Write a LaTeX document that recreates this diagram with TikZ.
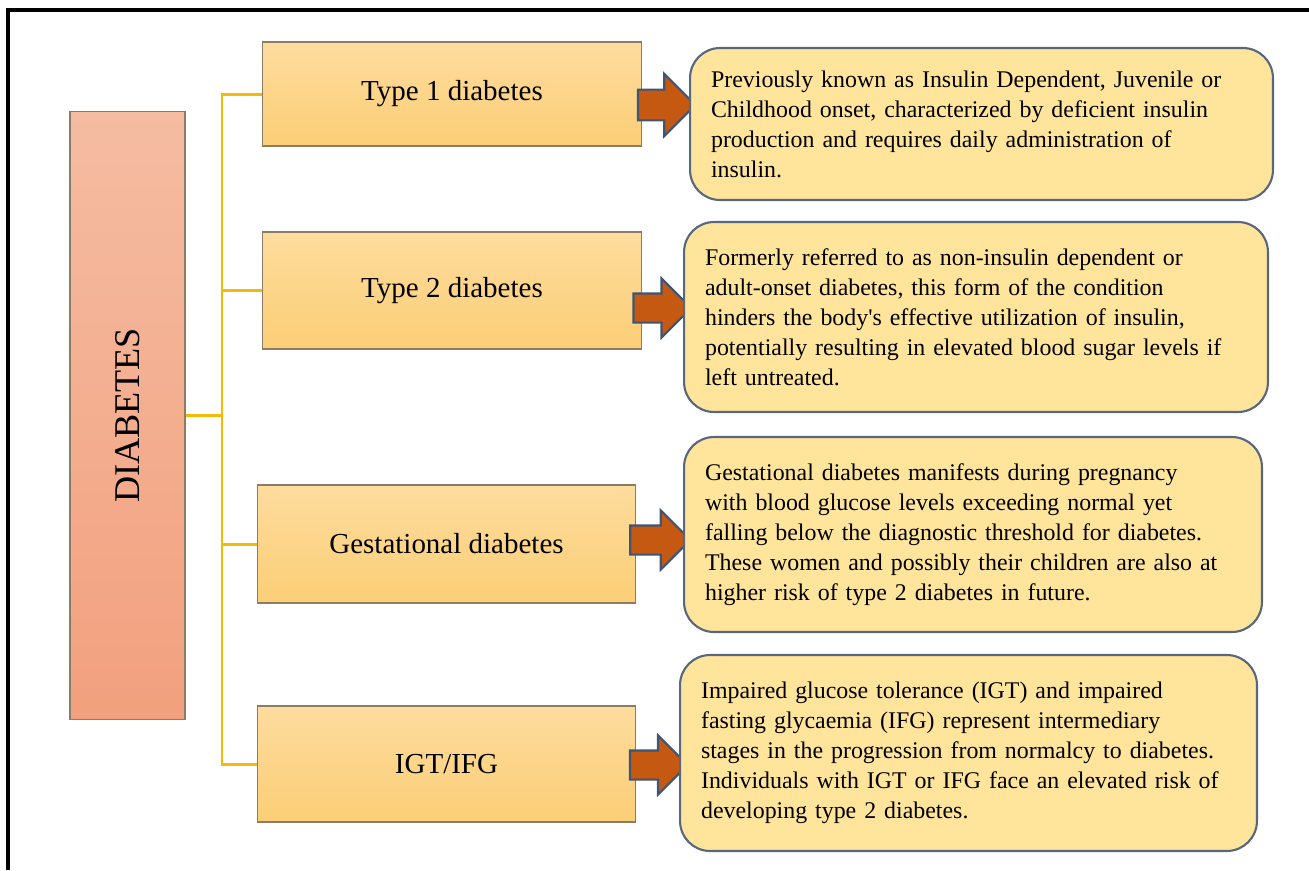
\documentclass[tikz,border=0pt]{standalone}
\usepackage{fontspec}
\setmainfont{Liberation Serif}
\usepackage{xcolor}
\usepackage{tikz}
\usetikzlibrary{shapes.arrows, positioning, calc}
\definecolor{diabtop}{RGB}{245,188,162}
\definecolor{diabbot}{RGB}{242,160,126}
\definecolor{typetop}{RGB}{253,220,158}
\definecolor{typebot}{RGB}{252,206,118}
\definecolor{boxedge}{RGB}{139,125,100}
\definecolor{branchgold}{RGB}{245,185,10}
\definecolor{arrowfill}{RGB}{197,89,17}
\definecolor{arrowedge}{RGB}{62,85,117}
\definecolor{descfill}{RGB}{255,228,156}
\definecolor{descedge}{RGB}{88,103,125}
\tikzset{
  diabbox/.style={rectangle, draw=boxedge, top color=diabtop, bottom color=diabbot,
    minimum width=2.3cm, minimum height=12.18cm, line width=0.6pt},
  typebox/.style={rectangle, draw=boxedge, top color=typetop, bottom color=typebot,
    minimum width=7.6cm, minimum height=2.2cm, line width=0.6pt,
    font=\fontsize{16.5}{19}\selectfont},
  descbox/.style={rectangle, rounded corners=0.6cm, draw=descedge, fill=descfill,
    line width=1.2pt, inner xsep=0.42cm, align=left,
    font=\fontsize{13.6}{17.1}\selectfont},
  blockarrow/.style={single arrow, draw=arrowedge, fill=arrowfill, line width=1.2pt,
    inner xsep=0pt, inner ysep=0.27cm, minimum height=1.15cm, minimum width=1.15cm,
    single arrow head extend=0.3cm},
  branch/.style={line width=1.7pt, color=branchgold},
  frameline/.style={line width=1.8pt, color=black}
}
\begin{document}
\begin{tikzpicture}[x=0.02cm, y=-0.02cm]
  \useasboundingbox (0,0) rectangle (1309,870);
  % page frame
  \draw[frameline] (8,870) -- (8,10) -- (1309,10);

  % main category
  \node[diabbox] (diab) at (127.5,415.5) {};
  \node[rotate=90, font=\fontsize{20.6}{24}\selectfont] (diablabel) at (diab.center) {DIABETES};

  % types
  \node[typebox, minimum height=2.08cm] (t1) at (452,94) {Type 1 diabetes};
  \node[typebox, minimum height=2.34cm] (t2) at (452,290.5) {Type 2 diabetes};
  \node[typebox, minimum width=7.58cm, minimum height=2.36cm] (t3) at (446.5,544) {Gestational diabetes};
  \node[typebox, minimum width=7.58cm, minimum height=2.32cm] (t4) at (446.5,764) {IGT/IFG};

  % tree connectors
  \coordinate (spine) at (222,415.5);
  \draw[branch] (diab.east) -- (spine);
  \foreach \t in {t1,t2,t3,t4}
    \draw[branch] (spine) |- (\t.west);

  % block arrows
  \node[blockarrow, minimum width=1.25cm] (a1) at (659,105) {};
  \node[blockarrow] (a2) at (655,308) {};
  \node[blockarrow, minimum height=1.2cm] (a3) at (653,540) {};
  \node[blockarrow] (a4) at (651.5,765) {};

  % descriptions
  \node[descbox, text width=10.82cm, minimum height=3.04cm] (d1) at (981.5,124)
    {Previously known as Insulin Dependent, Juvenile or\\
     Childhood onset, characterized by deficient insulin\\
     production and requires daily administration of\\
     insulin.};
  \node[descbox, text width=10.84cm, minimum height=3.8cm] (d2) at (976,317)
    {Formerly referred to as non-insulin dependent or\\
     adult-onset diabetes, this form of the condition\\
     hinders the body\textquotesingle s effective utilization of insulin,\\
     potentially resulting in elevated blood sugar levels if\\
     left untreated.};
  \node[descbox, text width=10.72cm, minimum height=3.9cm] (d3) at (973,534.5)
    {Gestational diabetes manifests during pregnancy\\
     with blood glucose levels exceeding normal yet\\
     falling below the diagnostic threshold for diabetes.\\
     These women and possibly their children are also at\\
     higher risk of type 2 diabetes in future.};
  \node[descbox, text width=10.70cm, minimum height=3.92cm] (d4) at (968.5,753)
    {Impaired glucose tolerance (IGT) and impaired\\
     fasting glycaemia (IFG) represent intermediary\\
     stages in the progression from normalcy to diabetes.\\
     Individuals with IGT or IFG face an elevated risk of\\
     developing type 2 diabetes.};
\end{tikzpicture}
\end{document}
